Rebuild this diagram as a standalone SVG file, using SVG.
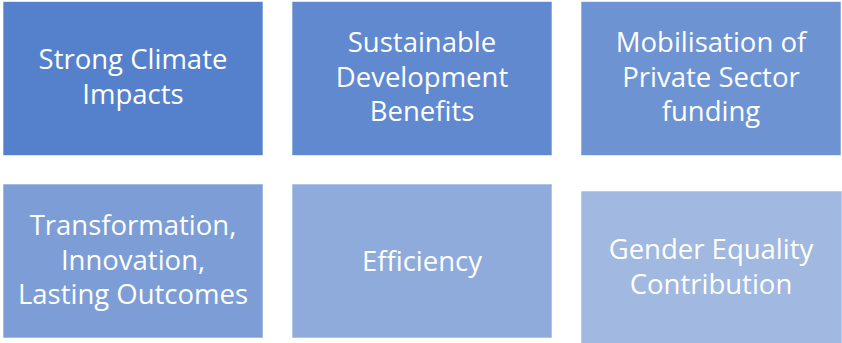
<svg xmlns="http://www.w3.org/2000/svg" width="842" height="343" viewBox="0 0 842 343">
<style>
.box{stroke:#ffffff;stroke-opacity:0.6;stroke-width:1}
text{font-family:"Open Sans","Liberation Sans",sans-serif;font-size:27.5px;fill:#ffffff;text-anchor:middle}
</style>
<rect width="842" height="343" fill="#ffffff"/>
<g id="n1"><rect class="box" x="3" y="1.5" width="260" height="154" fill="#5580CB"/>
<text x="133" y="69">Strong Climate</text><text x="133" y="104">Impacts</text></g>
<g id="n2"><rect class="box" x="292" y="1.5" width="260" height="154" fill="#6189D0"/>
<text x="422" y="52">Sustainable</text><text x="422" y="87">Development</text><text x="422" y="121">Benefits</text></g>
<g id="n3"><rect class="box" x="581" y="1.5" width="260" height="154" fill="#6D93D3"/>
<text x="711" y="52">Mobilisation of</text><text x="711" y="87">Private Sector</text><text x="711" y="121">funding</text></g>
<g id="n4"><rect class="box" x="3" y="184" width="260" height="154" fill="#7C9DD6"/>
<text x="133" y="235">Transformation,</text><text x="133" y="270">Innovation,</text><text x="133" y="304">Lasting Outcomes</text></g>
<g id="n5"><rect class="box" x="292" y="184" width="260" height="154" fill="#8EABDC"/>
<text x="422" y="271">Efficiency</text></g>
<g id="n6"><rect class="box" x="581" y="191" width="261" height="153" fill="#A1B8E0"/>
<text x="711" y="259">Gender Equality</text><text x="711" y="294">Contribution</text></g>
<g id="connectors"/>
</svg>
